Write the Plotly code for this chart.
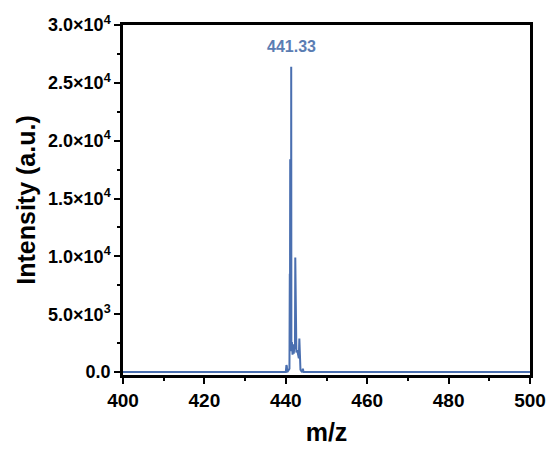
import plotly.graph_objects as go

# m/z profile
mz = [400.0, 440.0, 440.15, 440.25, 440.35, 440.9, 440.98, 441.02, 441.08, 441.12, 441.2,
      441.3, 441.33, 441.37, 441.5, 441.65, 441.8, 441.95, 442.1, 442.25, 442.33, 442.42,
      442.6, 442.8, 443.0, 443.2, 443.33, 443.45, 443.6, 444.0, 444.2, 444.35, 500.0]
intensity = [0, 0, 600, 500, 0, 300, 8500, 1800, 18400, 2200, 2000,
             2500, 26400, 1800, 2600, 1500, 2400, 1600, 2200, 2000, 9900, 1800,
             1700, 1900, 1300, 1200, 2900, 600, 200, 0, 300, 0, 0]

peak_label = "441.33"
peak_mz = 441.33
peak_label_y = 28100

y_tickvals = [0, 5000, 10000, 15000, 20000, 25000, 30000]
y_ticktext = ["0.0", "5.0×10<sup>3</sup>", "1.0×10<sup>4</sup>", "1.5×10<sup>4</sup>",
              "2.0×10<sup>4</sup>", "2.5×10<sup>4</sup>", "3.0×10<sup>4</sup>"]
x_tickvals = [400, 420, 440, 460, 480, 500]

line_color = "#4a6fb0"
font_family = "Liberation Sans, Arial, sans-serif"

fig = go.Figure()
fig.add_trace(go.Scatter(x=mz, y=intensity, mode="lines",
                         line=dict(color=line_color, width=2), showlegend=False))

fig.add_annotation(x=peak_mz, y=peak_label_y, text="<b>" + peak_label + "</b>",
                   showarrow=False, font=dict(size=16, color="#5b7db3", family=font_family))

fig.update_layout(
    width=558, height=454,
    margin=dict(l=123, r=19, t=25, b=73),
    paper_bgcolor="white", plot_bgcolor="white",
    font=dict(family=font_family, color="black"),
)
fig.update_xaxes(
    range=[400, 500], tickvals=x_tickvals,
    ticktext=["<b>%d</b>" % v for v in x_tickvals],
    showline=True, linewidth=2.5, linecolor="black", mirror=True,
    ticks="outside", ticklen=6, tickwidth=2, tickcolor="black",
    minor=dict(ticks="outside", ticklen=3, tickwidth=1.5, dtick=10, tickcolor="black"),
    showgrid=False, zeroline=False,
    tickfont=dict(size=19, family=font_family),
    title=dict(text="<b>m/z</b>", font=dict(size=25, family=font_family), standoff=14),
)
fig.update_yaxes(
    range=[-250, 30000], tickvals=y_tickvals,
    ticktext=["<b>" + t + "</b>" for t in y_ticktext],
    showline=True, linewidth=2.5, linecolor="black", mirror=True,
    ticks="outside", ticklen=6, tickwidth=2, tickcolor="black",
    minor=dict(ticks="outside", ticklen=3, tickwidth=1.5, dtick=2500, tickcolor="black"),
    showgrid=False, zeroline=False,
    tickfont=dict(size=18, family=font_family),
    title=dict(text="<b>Intensity (a.u.)</b>", font=dict(size=25, family=font_family), standoff=6),
)

fig.write_html("out.html", config={"displayModeBar": False},
               post_script="document.body.style.margin='0px';document.body.style.overflow='hidden';")
